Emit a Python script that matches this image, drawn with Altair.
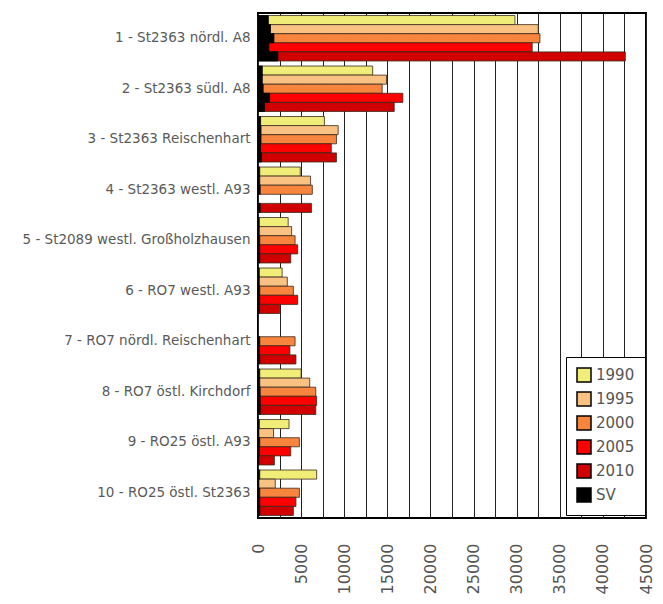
import altair as alt
import pandas as pd

categories = [
    "1 - St2363 nördl. A8",
    "2 - St2363 südl. A8",
    "3 - St2363 Reischenhart",
    "4 - St2363 westl. A93",
    "5 - St2089 westl. Großholzhausen",
    "6 - RO7 westl. A93",
    "7 - RO7 nördl. Reischenhart",
    "8 - RO7 östl. Kirchdorf",
    "9 - RO25 östl. A93",
    "10 - RO25 östl. St2363",
]
years = ["1990", "1995", "2000", "2005", "2010"]

v1990 = [29800, 13300, 7700, 4900, 3500, 2800, None, 5000, 3600, 6800]
v1995 = [32500, 14900, 9300, 6100, 3900, 3400, None, 6000, 1800, 2000]
v2000 = [32700, 14400, 9100, 6300, 4300, 4100, 4300, 6700, 4800, 4800]
v2005 = [31800, 16800, 8500, None, 4600, 4600, 3700, 6800, 3800, 4400]
v2010 = [42600, 15800, 9100, 6200, 3800, 2500, 4400, 6700, 1900, 4100]

sv1990 = [1200, 500, 300, 200, 150, 150, None, 200, 150, 200]
sv1995 = [1450, 500, 350, 200, 150, 150, None, 200, 100, 100]
sv2000 = [1850, 600, 350, 250, 200, 200, 200, 250, 200, 200]
sv2005 = [1250, 1350, 300, None, 200, 200, 150, 250, 150, 200]
sv2010 = [2300, 750, 400, 250, 200, 150, 200, 250, 100, 200]

x_ticks = [0, 2500, 5000, 7500, 10000, 12500, 15000, 17500, 20000, 22500,
           25000, 27500, 30000, 32500, 35000, 37500, 40000, 42500, 45000]

series_names = ["1990", "1995", "2000", "2005", "2010", "SV"]
series_colors = ["#F0EE78", "#FAC282", "#F8853E", "#FF0000", "#D00000", "#000000"]

rows = []
for yr, vals, svs in zip(years, [v1990, v1995, v2000, v2005, v2010],
                         [sv1990, sv1995, sv2000, sv2005, sv2010]):
    for c, v, s in zip(categories, vals, svs):
        if v is not None:
            rows.append({"cat": c, "year": yr, "series": yr, "value": v})
        if s is not None:
            rows.append({"cat": c, "year": yr, "series": "SV", "value": s})
df = pd.DataFrame(rows)

x_enc = alt.X(
    "value:Q",
    scale=alt.Scale(domain=[0, 45000], nice=False),
    axis=alt.Axis(
        values=x_ticks,
        format="d",
        labelExpr="datum.value % 5000 === 0 ? datum.label : ''",
        labelAngle=270,
        labelOverlap=False,
        grid=True,
        gridColor="#222222",
        gridWidth=1,
        ticks=False,
        domain=False,
        labelFontSize=16,
        labelFont="DejaVu Sans",
        labelColor="#555555",
        labelPadding=25,
        title=None,
    ),
)
y_enc = alt.Y(
    "cat:N",
    sort=categories,
    scale=alt.Scale(paddingInner=0.1, paddingOuter=0.05),
    axis=alt.Axis(
        title=None,
        labelFontSize=13.5,
        labelFont="DejaVu Sans",
        labelColor="#5a5a5a",
        ticks=False,
        domain=False,
        labelPadding=8,
        labelLimit=320,
    ),
)
yoff_enc = alt.YOffset("year:N", sort=years, scale=alt.Scale(paddingInner=0, paddingOuter=0))
color_enc = alt.Color(
    "series:N",
    scale=alt.Scale(domain=series_names, range=series_colors),
    legend=alt.Legend(
        title=None,
        orient="none",
        legendX=308,
        legendY=344,
        symbolType="square",
        symbolSize=196,
        symbolStrokeColor="black",
        symbolStrokeWidth=1.5,
        labelFontSize=15,
        labelFont="DejaVu Sans",
        labelColor="#555555",
        rowPadding=4,
        padding=10,
        strokeColor="black",
        fillColor="white",
    ),
)

base = alt.Chart(df)
years_layer = base.transform_filter(alt.datum.series != "SV").mark_bar(
    stroke="#3a2a1a", strokeWidth=0.8
).encode(x=x_enc, y=y_enc, yOffset=yoff_enc, color=color_enc)
sv_layer = base.transform_filter(alt.datum.series == "SV").mark_bar(
    stroke="#000000", strokeWidth=0.8
).encode(x=x_enc, y=y_enc, yOffset=yoff_enc, color=color_enc)

chart = alt.layer(years_layer, sv_layer).properties(
    width=388,
    height=505,
    autosize="none",
    padding={"left": 250, "top": 5, "right": 9, "bottom": 84},
).configure_view(stroke="black", strokeWidth=2)

chart.save("out.html", embed_options={"renderer": "svg", "actions": False})
